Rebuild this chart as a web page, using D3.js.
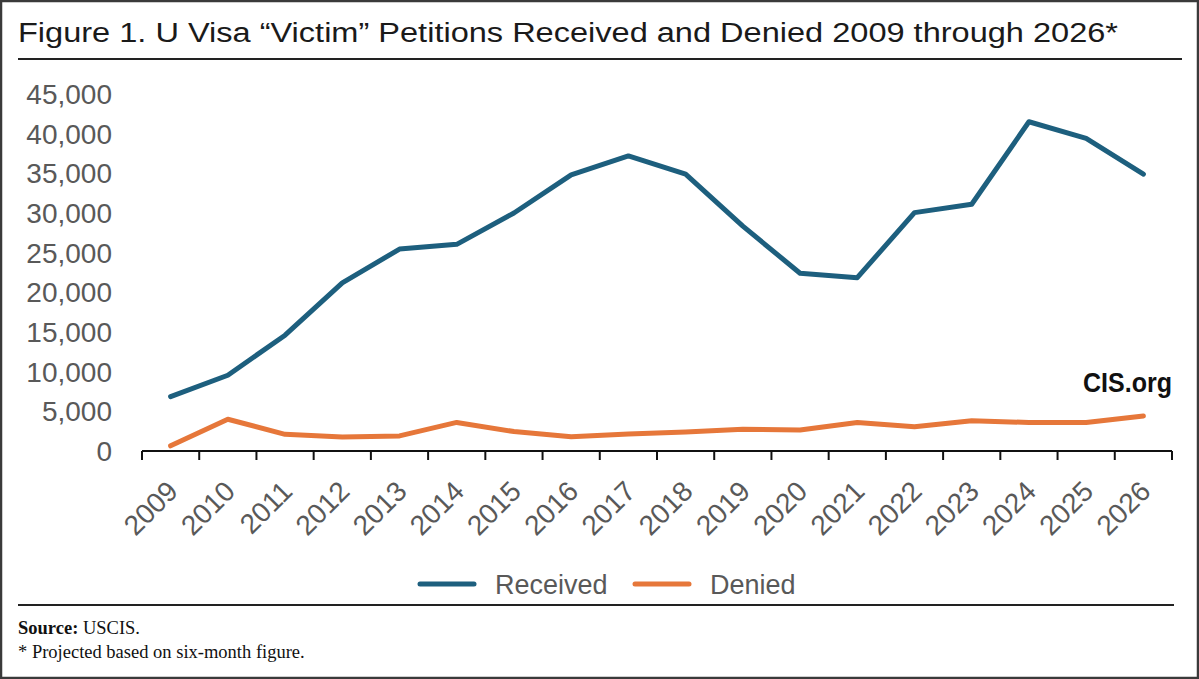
<!DOCTYPE html>
<html>
<head>
<meta charset="utf-8">
<script src="https://cdn.jsdelivr.net/npm/d3@7"></script>
<style>
  body { margin: 0; background: #fff; }
  svg { display: block; }
  .tick-label { fill: #595959; font-family: "Liberation Sans", Arial, sans-serif; }
</style>
</head>
<body>
<svg id="chart" width="1199" height="679"></svg>
<script>

  // data
  var years = ['2009','2010','2011','2012','2013','2014','2015','2016','2017',
               '2018','2019','2020','2021','2022','2023','2024','2025','2026'];
  var received = [6850, 9550, 14600, 21200, 25450, 26050, 30000, 34800, 37200,
                  34900, 28350, 22400, 21850, 30050, 31100, 41500, 39400, 34900];
  var denied = [650, 4000, 2100, 1750, 1900, 3600, 2450, 1800, 2150,
                2400, 2750, 2650, 3600, 3050, 3800, 3600, 3600, 4400];
  var yTicks = [0, 5000, 10000, 15000, 20000, 25000, 30000, 35000, 40000, 45000];
  var seriesNames = ['Received', 'Denied'];
  var seriesColors = ['#1d5f7e', '#e6773a'];

  var titleText = 'Figure 1. U Visa \u201cVictim\u201d Petitions Received and Denied 2009 through 2026*';

  var W = 1199, H = 679;
  var plot = {left: 142, right: 1172, top: 94, bottom: 451};

  var svg = d3.select('#chart');

  // outer frame
  svg.append('rect')
      .attr('x', 1).attr('y', 1)
      .attr('width', W - 2).attr('height', H - 2)
      .attr('fill', '#fff')
      .attr('stroke', '#3a3a3a')
      .attr('stroke-width', 2.5);

  // title + rule under it (original face is wider than Arial, so stretch it)
  svg.append('text')
      .attr('x', 18).attr('y', 42)
      .style('font-family', '"Liberation Sans", Arial, sans-serif')
      .style('font-size', '27px')
      .attr('fill', '#1a1a1a')
      .attr('textLength', 1100)
      .attr('lengthAdjust', 'spacingAndGlyphs')
      .text(titleText);

  svg.append('line')
      .attr('x1', 18).attr('x2', 1182)
      .attr('y1', 59).attr('y2', 59)
      .attr('stroke', '#222').attr('stroke-width', 2);

  // scales
  var x = d3.scaleBand().domain(years).range([plot.left, plot.right]);
  var y = d3.scaleLinear().domain([0, 45000]).range([plot.bottom, plot.top]);
  var cx = function(yr) { return x(yr) + x.bandwidth() / 2; };

  // y labels (no gridlines in the original)
  var fmt = d3.format(',');
  svg.append('g').selectAll('text')
      .data(yTicks)
      .enter()
      .append('text')
      .attr('class', 'tick-label')
      .attr('x', 112)
      .attr('y', function(d) { return y(d); })
      .attr('dy', '0.36em')
      .attr('text-anchor', 'end')
      .style('font-size', '28px')
      .text(function(d) { return fmt(d); });

  // x axis: baseline with ticks on the band edges
  var xAxis = svg.append('g');
  xAxis.append('line')
      .attr('x1', plot.left).attr('x2', plot.right)
      .attr('y1', y(0)).attr('y2', y(0))
      .attr('stroke', '#111').attr('stroke-width', 2);

  var edges = years.map(function(d) { return x(d); }).concat([plot.right]);
  xAxis.selectAll('.edge')
      .data(edges)
      .enter()
      .append('line')
      .attr('class', 'edge')
      .attr('x1', function(d) { return d; }).attr('x2', function(d) { return d; })
      .attr('y1', y(0)).attr('y2', y(0) + 9)
      .attr('stroke', '#111').attr('stroke-width', 2);

  xAxis.selectAll('.yr')
      .data(years)
      .enter()
      .append('text')
      .attr('class', 'tick-label yr')
      .attr('text-anchor', 'end')
      .style('font-size', '28px')
      .attr('transform', function(d) {
        return 'translate(' + (cx(d) + 2) + ',' + (y(0) + 35) + ') rotate(-45)';
      })
      .attr('dy', '0.35em')
      .text(function(d) { return d; });

  // lines
  var line = d3.line()
      .x(function(d, i) { return cx(years[i]); })
      .y(function(d) { return y(d); });

  var series = [received, denied];
  svg.append('g').selectAll('path')
      .data(series)
      .enter()
      .append('path')
      .attr('d', line)
      .attr('fill', 'none')
      .attr('stroke', function(d, i) { return seriesColors[i]; })
      .attr('stroke-width', 5)
      .attr('stroke-linejoin', 'round')
      .attr('stroke-linecap', 'round');

  // watermark, condensed bold in the original
  svg.append('text')
      .attr('x', 1083).attr('y', 392)
      .style('font-family', '"Liberation Sans", Arial, sans-serif')
      .style('font-weight', 'bold')
      .style('font-size', '28px')
      .attr('fill', '#111')
      .attr('textLength', 89)
      .attr('lengthAdjust', 'spacingAndGlyphs')
      .text('CIS.org');

  // legend
  var legendX = [420, 635];
  var legend = svg.append('g').selectAll('g')
      .data(seriesNames)
      .enter()
      .append('g')
      .attr('transform', function(d, i) { return 'translate(' + legendX[i] + ',584)'; });

  legend.append('line')
      .attr('x1', 0).attr('x2', 54)
      .attr('stroke', function(d, i) { return seriesColors[i]; })
      .attr('stroke-width', 5)
      .attr('stroke-linecap', 'round');

  legend.append('text')
      .attr('class', 'tick-label')
      .attr('x', 75)
      .attr('dy', '0.36em')
      .style('font-size', '27px')
      .text(function(d) { return d; });

  // bottom rule + notes
  svg.append('line')
      .attr('x1', 18).attr('x2', 1174)
      .attr('y1', 605).attr('y2', 605)
      .attr('stroke', '#222').attr('stroke-width', 2);

  var notes = svg.append('g')
      .style('font-family', '"Liberation Serif", "Times New Roman", serif')
      .style('font-size', '18.5px')
      .attr('fill', '#111');

  var src = notes.append('text').attr('x', 18).attr('y', 634);
  src.append('tspan').style('font-weight', 'bold').text('Source:');
  src.append('tspan').text(' USCIS.');

  notes.append('text')
      .attr('x', 18).attr('y', 658)
      .text('* Projected based on six-month figure.');

</script>
</body>
</html>
